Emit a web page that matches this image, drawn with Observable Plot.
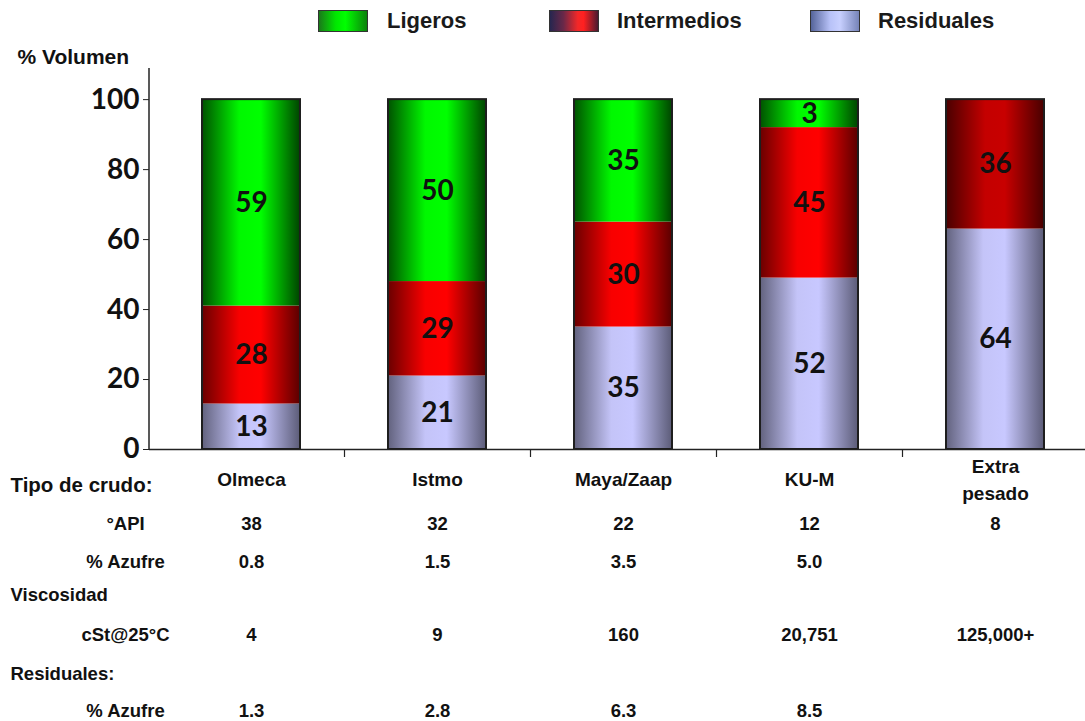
<!DOCTYPE html>
<html>
<head>
<meta charset="utf-8">
<script src="https://cdn.jsdelivr.net/npm/d3@7"></script>
<script src="https://cdn.jsdelivr.net/npm/@observablehq/plot@0.6"></script>
<style>
  html, body { margin: 0; padding: 0; background: #fff; }
  #wrap { position: relative; width: 1085px; }
  #legend { position: relative; height: 44px; font-family: "Liberation Sans", Arial, sans-serif; font-weight: bold; font-size: 22px; color: #1a1a1a; }
  .sw { position: absolute; top: 10px; width: 48px; height: 20px; border: 1.5px solid #333; }
  .lt { position: absolute; top: 8px; line-height: 26px; }
  svg { display: block; }
</style>
</head>
<body>
<div id="wrap">
  <div id="legend"></div>
  <div id="chart"></div>
</div>
<script>
// ---- data ----
const crudos = ["Olmeca", "Istmo", "Maya/Zaap", "KU-M", "Extra pesado"];
const crudoEtiquetas = ["Olmeca", "Istmo", "Maya/Zaap", "KU-M", "Extra\npesado"];
// printed segment values
const residuales = [13, 21, 35, 52, 64];
const intermedios = [28, 29, 30, 45, 36];
const ligeros = [59, 50, 35, 3, 0];
// segment heights as drawn in the picture (KU-M is drawn differently from its labels)
const alturaResiduales = [13, 21, 35, 49, 63];
const alturaIntermedios = [28, 27, 30, 43, 37];
const alturaLigeros = [59, 52, 35, 8, 0];
const yTicks = [0, 20, 40, 60, 80, 100];
const api = ["38", "32", "22", "12", "8"];
const azufre = ["0.8", "1.5", "3.5", "5.0", ""];
const viscosidad = ["4", "9", "160", "20,751", "125,000+"];
const azufreResiduales = ["1.3", "2.8", "6.3", "8.5", ""];
const series = ["Residuales", "Intermedios", "Ligeros"];
const legendItems = ["Ligeros", "Intermedios", "Residuales"];

// ---- legend (HTML above the svg) ----
const legendStyle = {
  Ligeros: {sw: 318, tx: 387, bg: "linear-gradient(to right, #1a7a1a 0%, #00e800 35%, #00ff00 55%, #0c820c 100%)"},
  Intermedios: {sw: 549, tx: 617, bg: "linear-gradient(to right, #26264f 0%, #6a2848 28%, #f42828 58%, #ff2020 70%, #4a1a30 100%)"},
  Residuales: {sw: 810, tx: 878, bg: "linear-gradient(to right, #55649a 0%, #b8c2f8 40%, #c8d0ff 60%, #7684b8 100%)"}
};
const legend = document.getElementById("legend");
legendItems.forEach(name => {
  const s = legendStyle[name];
  const sw = document.createElement("div");
  sw.className = "sw"; sw.style.left = s.sw + "px"; sw.style.background = s.bg;
  const t = document.createElement("div");
  t.className = "lt"; t.style.left = s.tx + "px"; t.textContent = name;
  legend.append(sw, t);
});

// ---- table of segments ----
const rows = [];
crudos.forEach((c, i) => {
  const vals = [residuales[i], intermedios[i], ligeros[i]];
  const alts = [alturaResiduales[i], alturaIntermedios[i], alturaLigeros[i]];
  series.forEach((s, j) => {
    if (alts[j] > 0) {
      const key = (s === "Intermedios" && c === "Extra pesado") ? "IntermediosOscuro" : s;
      rows.push({crudo: c, serie: s, key, value: vals[j], altura: alts[j]});
    }
  });
});
const totals = crudos.map((c, i) => ({crudo: c, total: alturaResiduales[i] + alturaIntermedios[i] + alturaLigeros[i]}));

const gradKeys = ["Residuales", "Intermedios", "IntermediosOscuro", "Ligeros"];
const gradStops = {
  Residuales: [[0, "#62627e"], [0.38, "#c4c4f8"], [0.6, "#c8c8ff"], [1, "#5c5c78"]],
  Intermedios: [[0, "#6a0000"], [0.38, "#f80000"], [0.6, "#ff0000"], [1, "#5a0000"]],
  IntermediosOscuro: [[0, "#4a0000"], [0.4, "#c40000"], [0.6, "#c80000"], [1, "#480000"]],
  Ligeros: [[0, "#005200"], [0.38, "#00f800"], [0.6, "#00ff00"], [1, "#004400"]]
};

const defsMark = () => {
  const defs = d3.create("svg:defs");
  gradKeys.forEach(k => {
    const g = defs.append("linearGradient").attr("id", "g-" + k)
      .attr("x1", "0").attr("x2", "1").attr("y1", "0").attr("y2", "0");
    gradStops[k].forEach(([o, c]) => g.append("stop").attr("offset", o).attr("stop-color", c));
  });
  return defs.node();
};

const yAxisLine = (index, scales, values, dims) => {
  return d3.create("svg:line")
    .attr("x1", dims.marginLeft).attr("x2", dims.marginLeft)
    .attr("y1", dims.marginTop).attr("y2", dims.height - dims.marginBottom)
    .attr("stroke", "#222").attr("stroke-width", 1.5).node();
};

const W = 1085, ML = 149, XR0 = 158, XR1 = 1088;
const step = (XR1 - XR0) / crudos.length;
const inset = (step - 98) / 2;
const tableFont = {fontFamily: "Liberation Sans, Arial, sans-serif", fontWeight: "bold", fontSize: 18.5, fill: "#111"};

function valueRow(arr, dy) {
  return Plot.text(crudos, {x: d => d, text: (d, i) => arr[i], frameAnchor: "bottom", dy, ...tableFont});
}
function rowLabel(label, dy, left) {
  return Plot.text([label], left
    ? {text: d => d, frameAnchor: "bottom-left", dx: -139, dy, textAnchor: "start", ...tableFont}
    : {text: d => d, frameAnchor: "bottom-left", dx: -24, dy, textAnchor: "middle", ...tableFont});
}

const plot = Plot.plot({
  width: W,
  height: 677,
  marginLeft: ML,
  marginRight: 0,
  marginTop: 24,
  marginBottom: 272,
  style: {fontFamily: "Liberation Sans, Arial, sans-serif", background: "#fff", overflow: "visible", color: "#111"},
  x: {domain: crudos, range: [XR0, XR1], padding: 0, axis: null},
  y: {domain: [0, 108.9], axis: null},
  color: {type: "ordinal", domain: gradKeys, range: gradKeys.map(k => `url(#g-${k})`)},
  marks: [
    defsMark,
    Plot.barY(rows, Plot.stackY({x: "crudo", y: "altura", z: "serie", fill: "key", insetLeft: inset, insetRight: inset})),
    Plot.barY(totals, {x: "crudo", y: "total", fill: "none", stroke: "#1e1e1e", strokeWidth: 2, insetLeft: inset, insetRight: inset}),
    Plot.text(rows, Plot.stackY({x: "crudo", y: "altura", z: "serie", text: d => String(d.value),
      fontFamily: "Lato, Carlito, sans-serif", fontWeight: "bold", fontSize: 28, fill: "#111"})),
    yAxisLine,
    Plot.ruleY([0], {stroke: "#222", strokeWidth: 1.5}),
    Plot.ruleX(crudos.slice(0, crudos.length - 1), {x: d => d, dx: step / 2, y1: 0, y2: 0, insetBottom: -8, stroke: "#222", strokeWidth: 1.2}),
    Plot.axisY(yTicks, {tickSize: 6, tickPadding: 4, stroke: "#222", fontSize: 28, fontWeight: "bold",
      fontFamily: "Lato, Carlito, sans-serif", fill: "#111", label: null}),
    Plot.text(["% Volumen"], {text: d => d, frameAnchor: "top-left", dx: -132, dy: -19, textAnchor: "start",
      fontFamily: "Liberation Sans, Arial, sans-serif", fontWeight: "bold", fontSize: 21, fill: "#111"}),
    // x category labels
    Plot.text(crudos, {x: d => d, text: (d, i) => crudoEtiquetas[i], frameAnchor: "bottom", dy: 28,
      lineAnchor: "middle", lineHeight: 1.45, ...tableFont, fontSize: 19}),
    Plot.text(["Tipo de crudo:"], {text: d => d, frameAnchor: "bottom-left", dx: -139, dy: 42, textAnchor: "start",
      ...tableFont, fontSize: 20.5}),
    // table rows
    rowLabel("°API", 80, false), valueRow(api, 80),
    rowLabel("% Azufre", 118, false), valueRow(azufre, 118),
    rowLabel("Viscosidad", 151, true),
    rowLabel("cSt@25°C", 191, false), valueRow(viscosidad, 191),
    rowLabel("Residuales:", 230, true),
    rowLabel("% Azufre", 267, false), valueRow(azufreResiduales, 267)
  ]
});
document.getElementById("chart").append(plot);
</script>
</body>
</html>
